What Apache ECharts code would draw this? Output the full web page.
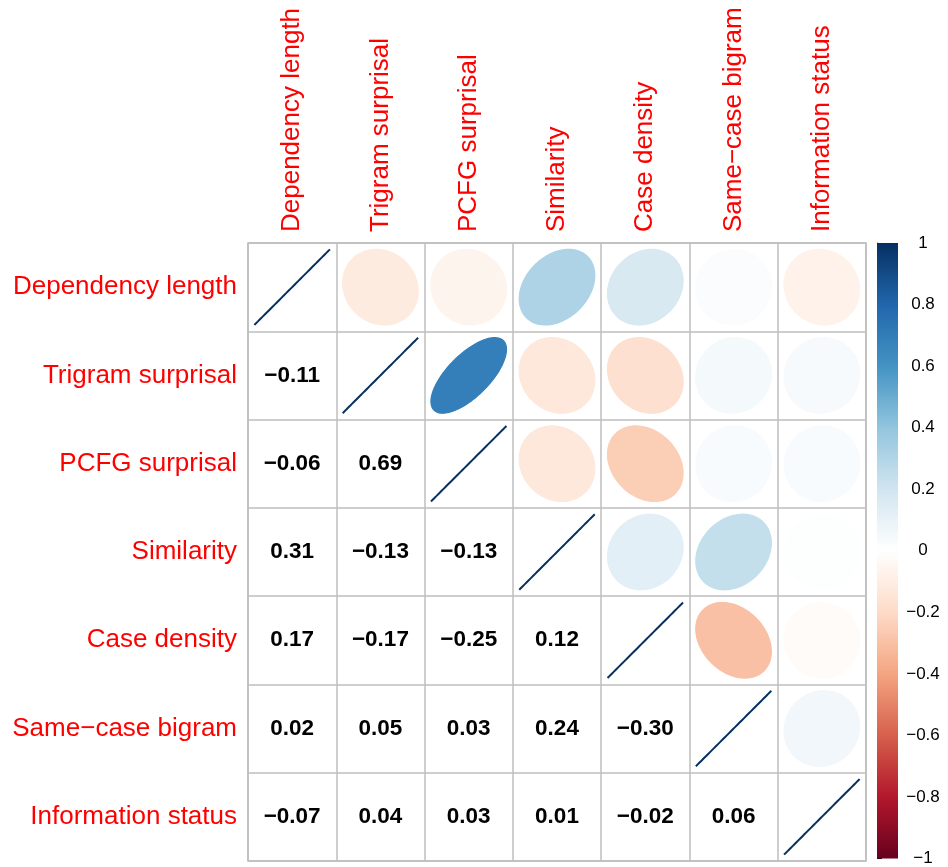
<!DOCTYPE html>
<html><head><meta charset="utf-8">
<script src="https://cdn.jsdelivr.net/npm/echarts@6/dist/echarts.min.js"></script>
<style>html,body{margin:0;padding:0;background:#fff}#c{width:948px;height:867px}</style>
</head><body><div id="c"></div>
<script>
const variables = ['Dependency length','Trigram surprisal','PCFG surprisal','Similarity','Case density','Same\u2212case bigram','Information status'];
// lower triangle of the correlation matrix (row i, columns 0..i)
const corrLower = [
  [1],
  [-0.11, 1],
  [-0.06, 0.69, 1],
  [0.31, -0.13, -0.13, 1],
  [0.17, -0.17, -0.25, 0.12, 1],
  [0.02, 0.05, 0.03, 0.24, -0.30, 1],
  [-0.07, 0.04, 0.03, 0.01, -0.02, 0.06, 1]
];
const colorStops = ['#67001F','#B2182B','#D6604D','#F4A582','#FDDBC7','#FFFFFF','#D1E5F0','#92C5DE','#4393C3','#2166AC','#053061'];
const colorbarRange = [-1, 1];

const FONT = 'Liberation Sans';
function corr(i, j) { return i >= j ? corrLower[i][j] : corrLower[j][i]; }
function hex2rgb(h) { return [1,3,5].map(k => parseInt(h.substr(k,2),16)); }
function colorFor(r) {
  const t = (r + 1) / 2 * (colorStops.length - 1);
  const i = Math.min(Math.floor(t), colorStops.length - 2);
  const f = t - i;
  const a = hex2rgb(colorStops[i]), b = hex2rgb(colorStops[i+1]);
  const c = a.map((v, k) => Math.round(v + (b[k] - v) * f));
  return 'rgb(' + c.join(',') + ')';
}
function fmt(r) { return r.toFixed(2).replace('-', '\u2212'); }

const cells = [];
for (let i = 0; i < variables.length; i++) {
  for (let j = 0; j < variables.length; j++) {
    cells.push([j, i, corr(i, j), i > j ? 1 : 0]);
  }
}

const chart = echarts.init(document.getElementById('c'));
chart.setOption({
  animation: false,
  textStyle: { fontFamily: FONT },
  grid: [
    { left: 248, top: 243, width: 618, height: 618, show: true, borderColor: '#BEBEBE', borderWidth: 1.5, backgroundColor: 'transparent' },
    { left: 877, top: 243, width: 21, height: 618 }
  ],
  xAxis: [
    { type: 'category', data: variables, position: 'top', gridIndex: 0,
      axisLabel: { rotate: -90, color: '#FF0000', fontSize: 26, margin: 11, interval: 0, fontFamily: FONT },
      axisTick: { show: false }, axisLine: { show: false },
      splitLine: { show: true, interval: 0, lineStyle: { color: '#BEBEBE', width: 1.5 } } },
    { type: 'value', gridIndex: 1, min: 0, max: 1, show: false }
  ],
  yAxis: [
    { type: 'category', data: variables, inverse: true, gridIndex: 0,
      axisLabel: { color: '#FF0000', fontSize: 26, margin: 11, interval: 0, fontFamily: FONT },
      axisTick: { show: false }, axisLine: { show: false },
      splitLine: { show: true, interval: 0, lineStyle: { color: '#BEBEBE', width: 1.5 } } },
    { type: 'value', gridIndex: 1, min: -1, max: 1, interval: 0.2, position: 'right',
      axisLine: { show: true, lineStyle: { color: '#333', width: 1 } },
      axisTick: { show: true, length: 5, lineStyle: { color: '#000', width: 1 } },
      splitLine: { show: false },
      axisLabel: { color: '#000', fontSize: 17, align: 'center', margin: 25, fontFamily: FONT,
        formatter: v => String(Math.round(v * 10) / 10).replace('-', '\u2212') } }
  ],
  series: [
    {
      type: 'custom', xAxisIndex: 0, yAxisIndex: 0, data: cells, clip: false,
      renderItem: function (params, api) {
        const xi = api.value(0), yi = api.value(1), r = api.value(2), kind = api.value(3);
        const c = api.coord([xi, yi]);
        const sz = api.size([1, 1]);
        if (kind === 1) {
          return { type: 'text', style: { text: fmt(r), x: c[0], y: c[1], align: 'center', verticalAlign: 'middle',
            fontSize: 22.5, fontWeight: 'bold', fontFamily: FONT, fill: '#000' } };
        }
        const a = Math.acos(Math.max(-1, Math.min(1, r))) / 2;
        const pts = [];
        const n = 99;
        for (let k = 0; k < n; k++) {
          const ang = 2 * Math.PI * k / (n - 1);
          const x = Math.cos(ang + a) / 2, y = Math.cos(ang - a) / 2;
          pts.push([c[0] + x * sz[0] * 0.855, c[1] - y * sz[1] * 0.855]);
        }
        const col = colorFor(r);
        return { type: 'polygon', shape: { points: pts }, style: { fill: col, stroke: col, lineWidth: r >= 0.999 ? 2 : 1.3 } };
      }
    },
    {
      type: 'custom', xAxisIndex: 1, yAxisIndex: 1, data: [[0, colorbarRange[0], 1, colorbarRange[1]]],
      renderItem: function (params, api) {
        const p0 = api.coord([api.value(0), api.value(1)]);
        const p1 = api.coord([api.value(2), api.value(3)]);
        const stops = colorStops.slice().reverse().map((c, i, arr) => ({ offset: i / (arr.length - 1), color: c }));
        return { type: 'rect', shape: { x: p0[0], y: p1[1], width: p1[0] - p0[0], height: p0[1] - p1[1] },
          style: { fill: new echarts.graphic.LinearGradient(0, 0, 0, 1, stops) } };
      }
    }
  ]
});
</script>
</body></html>
